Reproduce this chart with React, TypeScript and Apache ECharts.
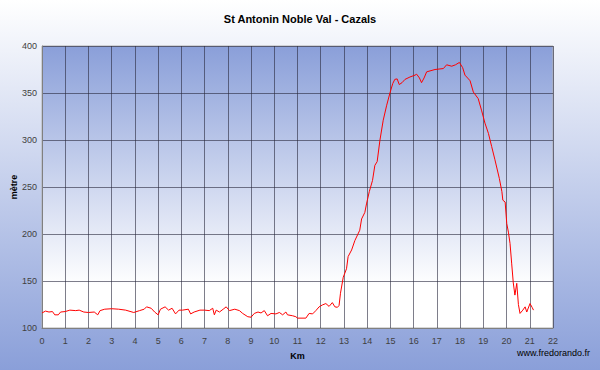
import React, { useEffect, useRef } from "react";
import * as echarts from "echarts";

const TITLE = "St Antonin Noble Val - Cazals";
const X_NAME = "Km";
const Y_NAME = "mètre";
const CREDIT = "www.fredorando.fr";

const distanceKm: number[] = [
  0.0, 0.15, 0.3, 0.45, 0.55, 0.7, 0.8, 1.0, 1.2, 1.45, 1.6, 1.8, 2.0, 2.25, 2.4, 2.5, 2.7, 3.0, 3.3, 3.6,
  3.95, 4.2, 4.4, 4.5, 4.7, 4.85, 5.0, 5.1, 5.3, 5.45, 5.6, 5.75, 5.9, 6.05, 6.3, 6.4, 6.55, 6.8, 7.0, 7.2,
  7.35, 7.42, 7.5, 7.64, 7.8, 7.93, 8.07, 8.3, 8.5, 8.64, 8.86, 9.0, 9.14, 9.3, 9.43, 9.57, 9.71, 9.86, 10.07, 10.22,
  10.36, 10.5, 10.57, 10.79, 10.93, 11.0, 11.36, 11.5, 11.65, 11.79, 11.93, 12.07, 12.22, 12.36, 12.5, 12.61, 12.72, 12.79, 12.85, 12.97,
  13.11, 13.18, 13.33, 13.47, 13.68, 13.76, 13.9, 13.97, 14.09, 14.23, 14.33, 14.43, 14.55, 14.69, 14.84, 14.98, 15.1, 15.19, 15.29, 15.38,
  15.5, 15.63, 15.84, 16.06, 16.13, 16.25, 16.34, 16.45, 16.56, 16.92, 17.28, 17.42, 17.64, 17.8, 17.97, 18.11, 18.21, 18.36, 18.43, 18.57,
  18.78, 18.93, 19.07, 19.22, 19.36, 19.5, 19.69, 19.8, 19.84, 19.94, 20.01, 20.08, 20.15, 20.22, 20.29, 20.36, 20.44, 20.51, 20.58, 20.7,
  20.8, 20.87, 21.01, 21.1, 21.16,
];

const altitudeM: number[] = [
  116, 118, 117, 117.5, 114, 114, 117, 117.5, 119, 118.5, 119, 117, 116.5, 117, 114, 118.5, 120, 120.5, 120, 119,
  116.5, 118.5, 120, 122.5, 121, 117, 114, 120, 122.5, 119, 121, 115, 119, 119, 120, 115, 117, 119, 119, 118.5,
  121, 114, 119, 117, 120, 122.5, 118.5, 120, 118.5, 115.5, 112, 111.5, 115.5, 117, 116, 118.5, 113, 115.5, 115, 116.5,
  114, 117, 114, 113, 112, 110.5, 110.5, 115.5, 115, 118.5, 122.5, 124.5, 126, 123, 127, 122.5, 122, 124, 137, 154,
  163, 176, 183, 193, 204, 216, 223, 232, 245, 257, 273, 277, 300, 321, 337, 350, 360, 364.5, 365, 359,
  361, 364.5, 367, 369, 370, 366, 361, 366, 372.5, 375, 376, 380, 378.5, 380, 382.5, 377, 369, 365, 363, 351,
  344, 331, 318, 307, 293, 279, 259, 245, 236, 234, 211, 202, 190, 169, 148, 135, 147.5, 125, 115.5, 119,
  122.5, 117, 126, 122, 119,
];

const X_MIN = 0;
const X_MAX = 22;
const X_STEP = 1;
const Y_MIN = 100;
const Y_MAX = 400;
const Y_STEP = 50;

const BLUE = "#8a9fd9";
const FONT = "Liberation Sans, Arial, sans-serif";

export default function App() {
  const ref = useRef<HTMLDivElement>(null);

  useEffect(() => {
    if (!ref.current) return;
    const chart = echarts.init(ref.current, undefined, { renderer: "svg" });
    const data = distanceKm.map((d, i) => [d, altitudeM[i]]);
    chart.setOption({
      animation: false,
      backgroundColor: new echarts.graphic.LinearGradient(0, 0, 0, 1, [
        { offset: 0, color: "#ffffff" },
        { offset: 1, color: BLUE },
      ]),
      title: {
        text: TITLE,
        left: "center",
        top: 8,
        textStyle: { fontFamily: FONT, fontSize: 11, fontWeight: "bold", color: "#000" },
      },
      grid: {
        left: 42,
        right: 47,
        top: 46,
        bottom: 42,
        containLabel: false,
        outerBoundsMode: "none",
        show: true,
        borderColor: "#b0b0b0",
        borderWidth: 1,
        backgroundColor: new echarts.graphic.LinearGradient(0, 0, 0, 1, [
          { offset: 0, color: BLUE },
          { offset: 0.85, color: "#ffffff" },
          { offset: 1, color: "#ffffff" },
        ]),
      },
      xAxis: {
        type: "value",
        min: X_MIN,
        max: X_MAX,
        interval: X_STEP,
        name: X_NAME,
        nameLocation: "middle",
        nameGap: 23,
        nameMoveOverlap: false,
        nameTextStyle: { fontFamily: FONT, fontSize: 9, fontWeight: "bold", color: "#000" },
        axisLine: { show: true, lineStyle: { color: "#808080" } },
        axisTick: { show: false },
        axisLabel: { fontFamily: FONT, fontSize: 9, color: "#404040", margin: 8 },
        splitLine: { show: true, lineStyle: { color: "rgba(40,40,60,0.6)", width: 1 } },
      },
      yAxis: {
        type: "value",
        min: Y_MIN,
        max: Y_MAX,
        interval: Y_STEP,
        name: Y_NAME,
        nameLocation: "middle",
        nameGap: 24,
        nameMoveOverlap: false,
        nameRotate: 90,
        nameTextStyle: { fontFamily: FONT, fontSize: 9, fontWeight: "bold", color: "#000" },
        axisLine: { show: true, lineStyle: { color: "#808080" } },
        axisTick: { show: false },
        axisLabel: { fontFamily: FONT, fontSize: 9, color: "#404040", margin: 5 },
        splitLine: { show: true, lineStyle: { color: "rgba(40,40,60,0.6)", width: 1 } },
      },
      graphic: [
        {
          type: "text",
          right: 10,
          top: 348,
          style: { text: CREDIT, fontFamily: FONT, fontSize: 9, fill: "#000" },
        },
      ],
      series: [
        {
          type: "line",
          data,
          showSymbol: false,
          symbol: "none",
          lineStyle: { color: "#ff0000", width: 1 },
        },
      ],
    });
    return () => chart.dispose();
  }, []);

  return (
    <div
      ref={ref}
      style={{ position: "absolute", left: 0, top: 0, width: 600, height: 370 }}
    />
  );
}
